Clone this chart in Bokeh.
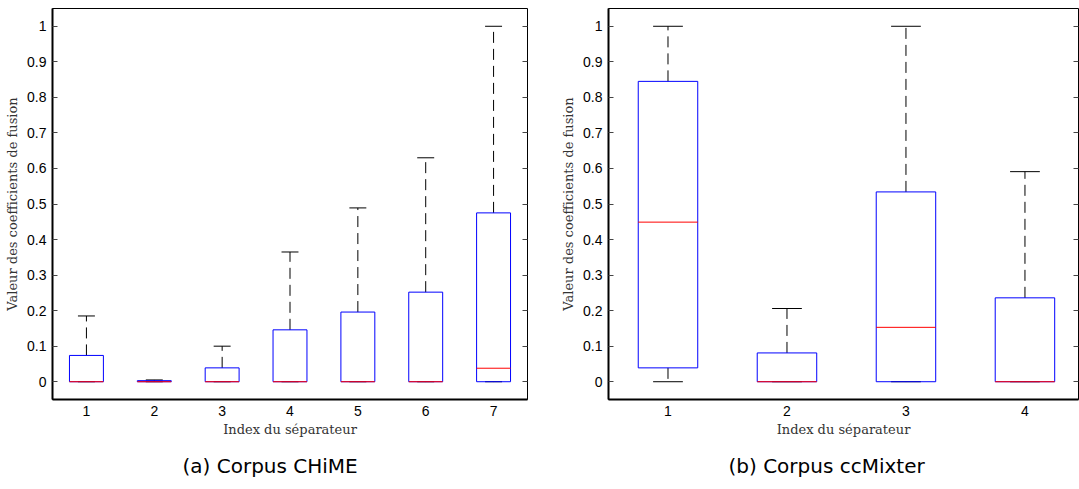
from bokeh.plotting import figure
from bokeh.models import ColumnDataSource, FixedTicker, LinearAxis, Range1d, Title
from bokeh.transform import dodge
from bokeh.layouts import row
from bokeh.embed import file_html
from bokeh.resources import INLINE

# ---- data ----
chime_index = [1, 2, 3, 4, 5, 6, 7]
chime_lower = [0, 0, 0, 0, 0, 0, 0]
chime_q1 = [0, 0, 0, 0, 0, 0, 0]
chime_median = [0, 0, 0, 0, 0, 0, 0.038]
chime_q3 = [0.074, 0.003, 0.039, 0.146, 0.196, 0.252, 0.475]
chime_upper = [0.185, 0.005, 0.100, 0.365, 0.489, 0.630, 1.0]

ccm_index = [1, 2, 3, 4]
ccm_lower = [0, 0, 0, 0]
ccm_q1 = [0.039, 0, 0, 0]
ccm_median = [0.449, 0, 0.153, 0]
ccm_q3 = [0.845, 0.081, 0.534, 0.236]
ccm_upper = [1.0, 0.206, 1.0, 0.591]

y_ticks = [0, 0.1, 0.2, 0.3, 0.4, 0.5, 0.6, 0.7, 0.8, 0.9, 1]
y_tick_labels = ["0", "0.1", "0.2", "0.3", "0.4", "0.5", "0.6", "0.7", "0.8", "0.9", "1"]

x_label = "Index du séparateur"
y_label = "Valeur des coefficients de fusion"
caption_a = "(a) Corpus CHiME"
caption_b = "(b) Corpus ccMixter"

TICK_FONT = "Liberation Sans"
LABEL_FONT = "DejaVu Serif"


def make_panel(index, lower, q1, median, q3, upper, caption, x_end, fw,
               border_left, border_right, cap_offset):
    p = figure(frame_width=fw, frame_height=391,
               x_range=Range1d(0.5, x_end), y_range=Range1d(-0.05, 1.05),
               output_backend="svg", toolbar_location=None, title=None,
               min_border_left=border_left, min_border_right=border_right,
               min_border_top=8, min_border_bottom=0,
               background_fill_color="white", border_fill_color="white",
               outline_line_color="black", outline_line_width=1)
    p.xgrid.visible = False
    p.ygrid.visible = False

    src = ColumnDataSource(dict(idx=index, lower=lower, q1=q1, median=median,
                                q3=q3, upper=upper))

    # whiskers (dashed)
    p.segment(x0="idx", y0="q3", x1="idx", y1="upper", source=src,
              line_color="black", line_dash="11 6", line_width=1)
    p.segment(x0="idx", y0="q1", x1="idx", y1="lower", source=src,
              line_color="black", line_dash="11 6", line_width=1)
    # caps
    p.segment(x0=dodge("idx", -0.125), y0="upper", x1=dodge("idx", 0.125),
              y1="upper", source=src, line_color="black", line_width=1)
    p.segment(x0=dodge("idx", -0.125), y0="lower", x1=dodge("idx", 0.125),
              y1="lower", source=src, line_color="black", line_width=1)
    # boxes
    p.vbar(x="idx", width=0.5, bottom="q1", top="q3", source=src,
           fill_color=None, line_color="#0000ff", line_width=1)
    # medians
    p.segment(x0=dodge("idx", -0.25), y0="median", x1=dodge("idx", 0.25),
              y1="median", source=src, line_color="#ff0000", line_width=1)

    xa = p.xaxis[0]
    xa.ticker = FixedTicker(ticks=index)
    xa.major_tick_in = 0
    xa.major_tick_out = 0
    xa.minor_tick_line_color = None
    xa.major_label_standoff = 6
    xa.major_label_text_font = TICK_FONT
    xa.major_label_text_font_size = "14px"
    xa.major_label_text_color = "black"
    xa.axis_line_width = 2
    xa.axis_line_color = "black"
    xa.axis_label = x_label
    xa.axis_label_text_font = LABEL_FONT
    xa.axis_label_text_font_size = "13px"
    xa.axis_label_text_font_style = "normal"
    xa.axis_label_text_color = "#333333"
    xa.axis_label_standoff = 3

    ya = p.yaxis[0]
    ya.ticker = FixedTicker(ticks=y_ticks)
    ya.major_label_overrides = dict(zip(y_ticks, y_tick_labels))
    ya.major_tick_in = 5
    ya.major_tick_out = 0
    ya.major_tick_line_color = "#444444"
    ya.minor_tick_line_color = None
    ya.major_label_standoff = 6
    ya.major_label_text_font = TICK_FONT
    ya.major_label_text_font_size = "14px"
    ya.major_label_text_color = "black"
    ya.axis_line_width = 2
    ya.axis_line_color = "black"
    ya.axis_label = y_label
    ya.axis_label_text_font = LABEL_FONT
    ya.axis_label_text_font_size = "13px"
    ya.axis_label_text_font_style = "normal"
    ya.axis_label_text_color = "#333333"
    ya.axis_label_standoff = 4

    # mirrored tick marks on the right side (no labels drawn)
    ra = LinearAxis(ticker=FixedTicker(ticks=y_ticks),
                    major_label_text_font_size="1px",
                    major_label_text_color=None, major_label_standoff=0,
                    major_tick_in=5, major_tick_out=0,
                    major_tick_line_color="#444444",
                    minor_tick_line_color=None, axis_line_color=None)
    p.add_layout(ra, "right")

    t = Title(text=caption, align="left", offset=cap_offset,
              text_font="DejaVu Sans", text_font_size="20px",
              text_font_style="normal", text_color="black", standoff=24)
    p.add_layout(t, "below")
    return p


p1 = make_panel(chime_index, chime_lower, chime_q1, chime_median, chime_q3,
                chime_upper, caption_a, 7.5, 475, 52, 31, 130)
p2 = make_panel(ccm_index, ccm_lower, ccm_q1, ccm_median, ccm_q3,
                ccm_upper, caption_b, 4.45, 470, 50, 1, 120)

layout = row(p1, p2)
open("out.html", "w").write(file_html(layout, INLINE, title="boxplots"))
